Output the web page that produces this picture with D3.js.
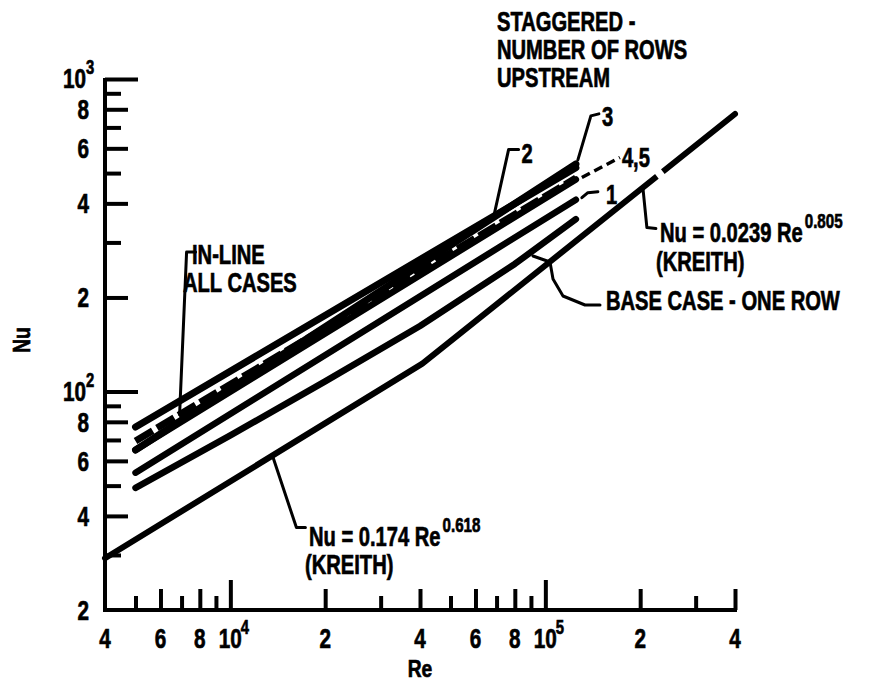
<!DOCTYPE html>
<html>
<head>
<meta charset="utf-8">
<script src="https://cdn.jsdelivr.net/npm/d3@7"></script>
<style>
  html, body { margin: 0; padding: 0; background: #fff; }
  svg { display: block; }
  text { font-family: "Liberation Sans", Arial, sans-serif; font-weight: bold; fill: #000; stroke: #000; stroke-width: 0.7px; }
</style>
</head>
<body>
<svg id="chart" width="880" height="683"></svg>
<script>
// ---- data -------------------------------------------------------------
// Reynolds numbers at the ends of the measured curves
const reEnds = [5000, 125000];
// staggered arrays, by number of rows upstream
const nuRow2 = [77, 520];
const nuRow3 = [65, 535];
const nuRow45 = [65, 477];
const nuRow1 = [55, 411];
// in-line arrays, all cases
const nuInline = [69.5, 482];
// base case (one row)
const reBase = [5000, 10000, 20000, 40000, 80000, 125000];
const nuBase = [49.2, 72.4, 107.8, 162, 256, 356];

// Kreith correlations  Nu = C * Re^n  (low and high Reynolds branch)
const kreithC = [0.174, 0.0239];
const kreithN = [0.618, 0.805];
const kreithRe = [4000, 40700, 400000]; // start, branch switch, end

// axis ticks and labels
const xTickValues = [5e3, 6e3, 7e3, 8e3, 9e3, 1e4, 2e4, 3e4, 4e4, 5e4, 6e4, 7e4, 8e4, 9e4, 1e5, 2e5, 3e5, 4e5];
const xLabelValues = [4e3, 6e3, 8e3, 1e4, 2e4, 4e4, 6e4, 8e4, 1e5, 2e5, 4e5];
const xLabelText = ["4", "6", "8", "10", "2", "4", "6", "8", "10", "2", "4"];
const xLabelExp = ["", "", "", "4", "", "", "", "", "5", "", ""];

const yTickValues = [30, 40, 50, 60, 70, 80, 90, 100, 200, 300, 400, 500, 600, 700, 800, 900, 1000];
const yLabelValues = [20, 40, 60, 80, 100, 200, 400, 600, 800, 1000];
const yLabelText = ["2", "4", "6", "8", "10", "2", "4", "6", "8", "10"];
const yLabelExp = ["", "", "", "", "2", "", "", "", "", "3"];

// ---- setup ------------------------------------------------------------
const svg = d3.select("#chart");
const x = d3.scaleLog().domain([4000, 400000]).range([105, 735]);
const y = d3.scaleLog().domain([20, 1000]).range([610, 79]);

const SX = 0.72; // condensed lettering

function txt(sel, s, px, py, o = {}) {
  const t = sel.append("text")
    .attr("transform", `translate(${px},${py}) scale(${o.sx || SX},1)`)
    .attr("font-size", o.size || 28)
    .attr("text-anchor", o.anchor || "start")
    .text(s);
  return t;
}
function width(t, sx) { return t.node().getComputedTextLength() * (sx || SX); }

const isDecade = v => Math.abs(Math.log10(v) - Math.round(Math.log10(v))) < 1e-9;

// ---- axes -------------------------------------------------------------
const xAxis = d3.axisBottom(x).tickValues(xTickValues).tickFormat("").tickSizeOuter(0).tickSizeInner(-20);
const gx = svg.append("g").attr("transform", "translate(0,610)").call(xAxis);
gx.select(".domain").attr("stroke", "#000").attr("stroke-width", 4).attr("d", "M103,0H737");
gx.selectAll(".tick line")
  .attr("stroke", "#000").attr("stroke-width", 4)
  .attr("y2", d => isDecade(d) ? -30 : (xLabelValues.includes(d) ? -21 : -14));

const yAxis = d3.axisLeft(y).tickValues(yTickValues).tickFormat("").tickSizeOuter(0).tickSizeInner(-20);
const gy = svg.append("g").attr("transform", "translate(105,0)").call(yAxis);
gy.select(".domain").attr("stroke", "#000").attr("stroke-width", 4).attr("d", "M0,78V612");
gy.selectAll(".tick line")
  .attr("stroke", "#000").attr("stroke-width", 4)
  .attr("x2", d => isDecade(d) ? 33 : (yLabelValues.includes(d) ? 23 : 16));

// tick labels
const lab = svg.append("g");
xLabelValues.forEach((v, i) => {
  const t = txt(lab, xLabelText[i], x(v), 648, { size: 28, sx: 0.74, anchor: "middle" });
  if (xLabelExp[i]) {
    const w = width(t, 0.74);
    txt(lab, xLabelExp[i], x(v) + w / 2 - 1, 634, { size: 20, sx: 0.74 });
  }
});
yLabelValues.forEach((v, i) => {
  if (yLabelExp[i]) {
    txt(lab, yLabelText[i], 86, y(v) + 9, { size: 28, sx: 0.74, anchor: "end" });
    txt(lab, yLabelExp[i], 86, y(v) - 5, { size: 20, sx: 0.74 });
  } else {
    txt(lab, yLabelText[i], 89, y(v) + 10, { size: 28, sx: 0.74, anchor: "end" });
  }
});

// axis titles
txt(svg, "Re", 420, 677, { size: 24, sx: 0.8, anchor: "middle" });
svg.append("text")
  .attr("transform", "translate(30,340) rotate(-90) scale(0.8,1)")
  .attr("font-size", 24).attr("text-anchor", "middle").text("Nu");

// ---- curves -----------------------------------------------------------
const line = d3.line().x(d => x(d[0])).y(d => y(d[1]));
const curves = svg.append("g").attr("fill", "none").attr("stroke", "#000")
  .attr("stroke-linecap", "round").attr("stroke-linejoin", "round");

const pairs = (re, nu) => re.map((r, i) => [r, nu[i]]);

// Kreith correlation, two branches meeting at the switch Reynolds number
const kreithAt = r => r < kreithRe[1] ? kreithC[0] * Math.pow(r, kreithN[0]) : kreithC[1] * Math.pow(r, kreithN[1]);
const kreith = [
  [kreithRe[0], kreithC[0] * Math.pow(kreithRe[0], kreithN[0])],
  [kreithRe[1], kreithC[0] * Math.pow(kreithRe[1], kreithN[0])],
  [kreithRe[2], kreithC[1] * Math.pow(kreithRe[2], kreithN[1])]
];
curves.append("path").attr("d", line(kreith)).attr("stroke-width", 6);
// small break in the printed line next to the "4,5" label
curves.append("path").attr("d", line([[226000, kreithAt(226000)], [236000, kreithAt(236000)]]))
  .attr("stroke", "#fff").attr("stroke-width", 9).attr("stroke-linecap", "butt");

curves.append("path").attr("d", line(pairs(reBase, nuBase))).attr("stroke-width", 6.5);
curves.append("path").attr("d", line(pairs(reEnds, nuRow1))).attr("stroke-width", 6.5);
curves.append("path").attr("d", line(pairs(reEnds, nuRow45))).attr("stroke-width", 6.5);
curves.append("path").attr("d", line(pairs(reEnds, nuRow3))).attr("stroke-width", 7);
curves.append("path").attr("d", line(pairs(reEnds, nuInline))).attr("stroke-width", 7)
  .attr("stroke-dasharray", "20 5").attr("stroke-linecap", "butt");
curves.append("path").attr("d", line(pairs(reEnds, nuRow2))).attr("stroke-width", 7);

// ---- annotations --------------------------------------------------------
const ann = svg.append("g");
const leader = pts => ann.append("path").attr("d", d3.line()(pts))
  .attr("fill", "none").attr("stroke", "#000").attr("stroke-width", 3)
  .attr("stroke-linejoin", "round").attr("stroke-linecap", "round");
const along = (re, nu, r) => {
  const t = (Math.log(r) - Math.log(re[0])) / (Math.log(re[1]) - Math.log(re[0]));
  return Math.exp(Math.log(nu[0]) + t * (Math.log(nu[1]) - Math.log(nu[0])));
};

// title block
txt(ann, "STAGGERED -", 497, 31);
txt(ann, "NUMBER OF ROWS", 497, 59);
txt(ann, "UPSTREAM", 497, 87);

// row labels
{
  const r = 69000, px = x(r), py = y(along(reEnds, nuRow2, r));
  leader([[px, py - 3], [px + 14, py - 66], [px + 24, py - 66]]);
  txt(ann, "2", px + 27, py - 53);
}
{
  const px = x(reEnds[1]) + 2, py = y(nuRow3[1]) - 4;
  leader([[px, py], [px + 13, py - 44], [px + 21, py - 46]]);
  txt(ann, "3", px + 24, py - 34);
}
{
  const px = x(reEnds[1]) + 6, py = y(nuRow45[1]) - 2;
  ann.append("path").attr("d", d3.line()([[px, py], [px + 38, py - 20]]))
    .attr("stroke", "#000").attr("stroke-width", 3.5).attr("stroke-dasharray", "9 5");
  txt(ann, "4,5", px + 40, py - 10);
}
{
  const px = x(reEnds[1]) + 6, py = y(nuRow1[1]) - 2;
  leader([[px, py], [px + 6, py - 5], [px + 16, py - 6]]);
  txt(ann, "1", px + 24, py + 6);
}

// in-line
{
  const r = 6900, px = x(r), py = y(along(reEnds, nuInline, r));
  leader([[px, py], [px + 7, 252], [px + 16, 252]]);
  txt(ann, "IN-LINE", 192, 264);
  txt(ann, "ALL CASES", 183, 292);
}

// base case
{
  const pb = [533, 256];
  leader([pb, [550, 262], [553, 279], [563, 296], [585, 305], [600, 305]]);
  txt(ann, "BASE CASE - ONE ROW", 606, 310);
}

// Kreith, high branch
{
  const r = 204000, px = x(r), py = y(kreithAt(r));
  leader([[px, py], [px + 4, py + 40], [px + 13, py + 41]]);
  const t = txt(ann, "Nu = 0.0239 Re", 660, 242);
  txt(ann, "0.805", 660 + width(t) + 2, 228, { size: 21 });
  txt(ann, "(KREITH)", 656, 271);
}
// Kreith, low branch
{
  const r = 13600, px = x(r), py = y(kreithAt(r));
  leader([[px, py], [px + 24, py + 72], [px + 33, py + 72]]);
  const t = txt(ann, "Nu = 0.174 Re", 309, 546);
  txt(ann, "0.618", 309 + width(t) + 2, 532, { size: 21 });
  txt(ann, "(KREITH)", 305, 574);
}
</script>
</body>
</html>
